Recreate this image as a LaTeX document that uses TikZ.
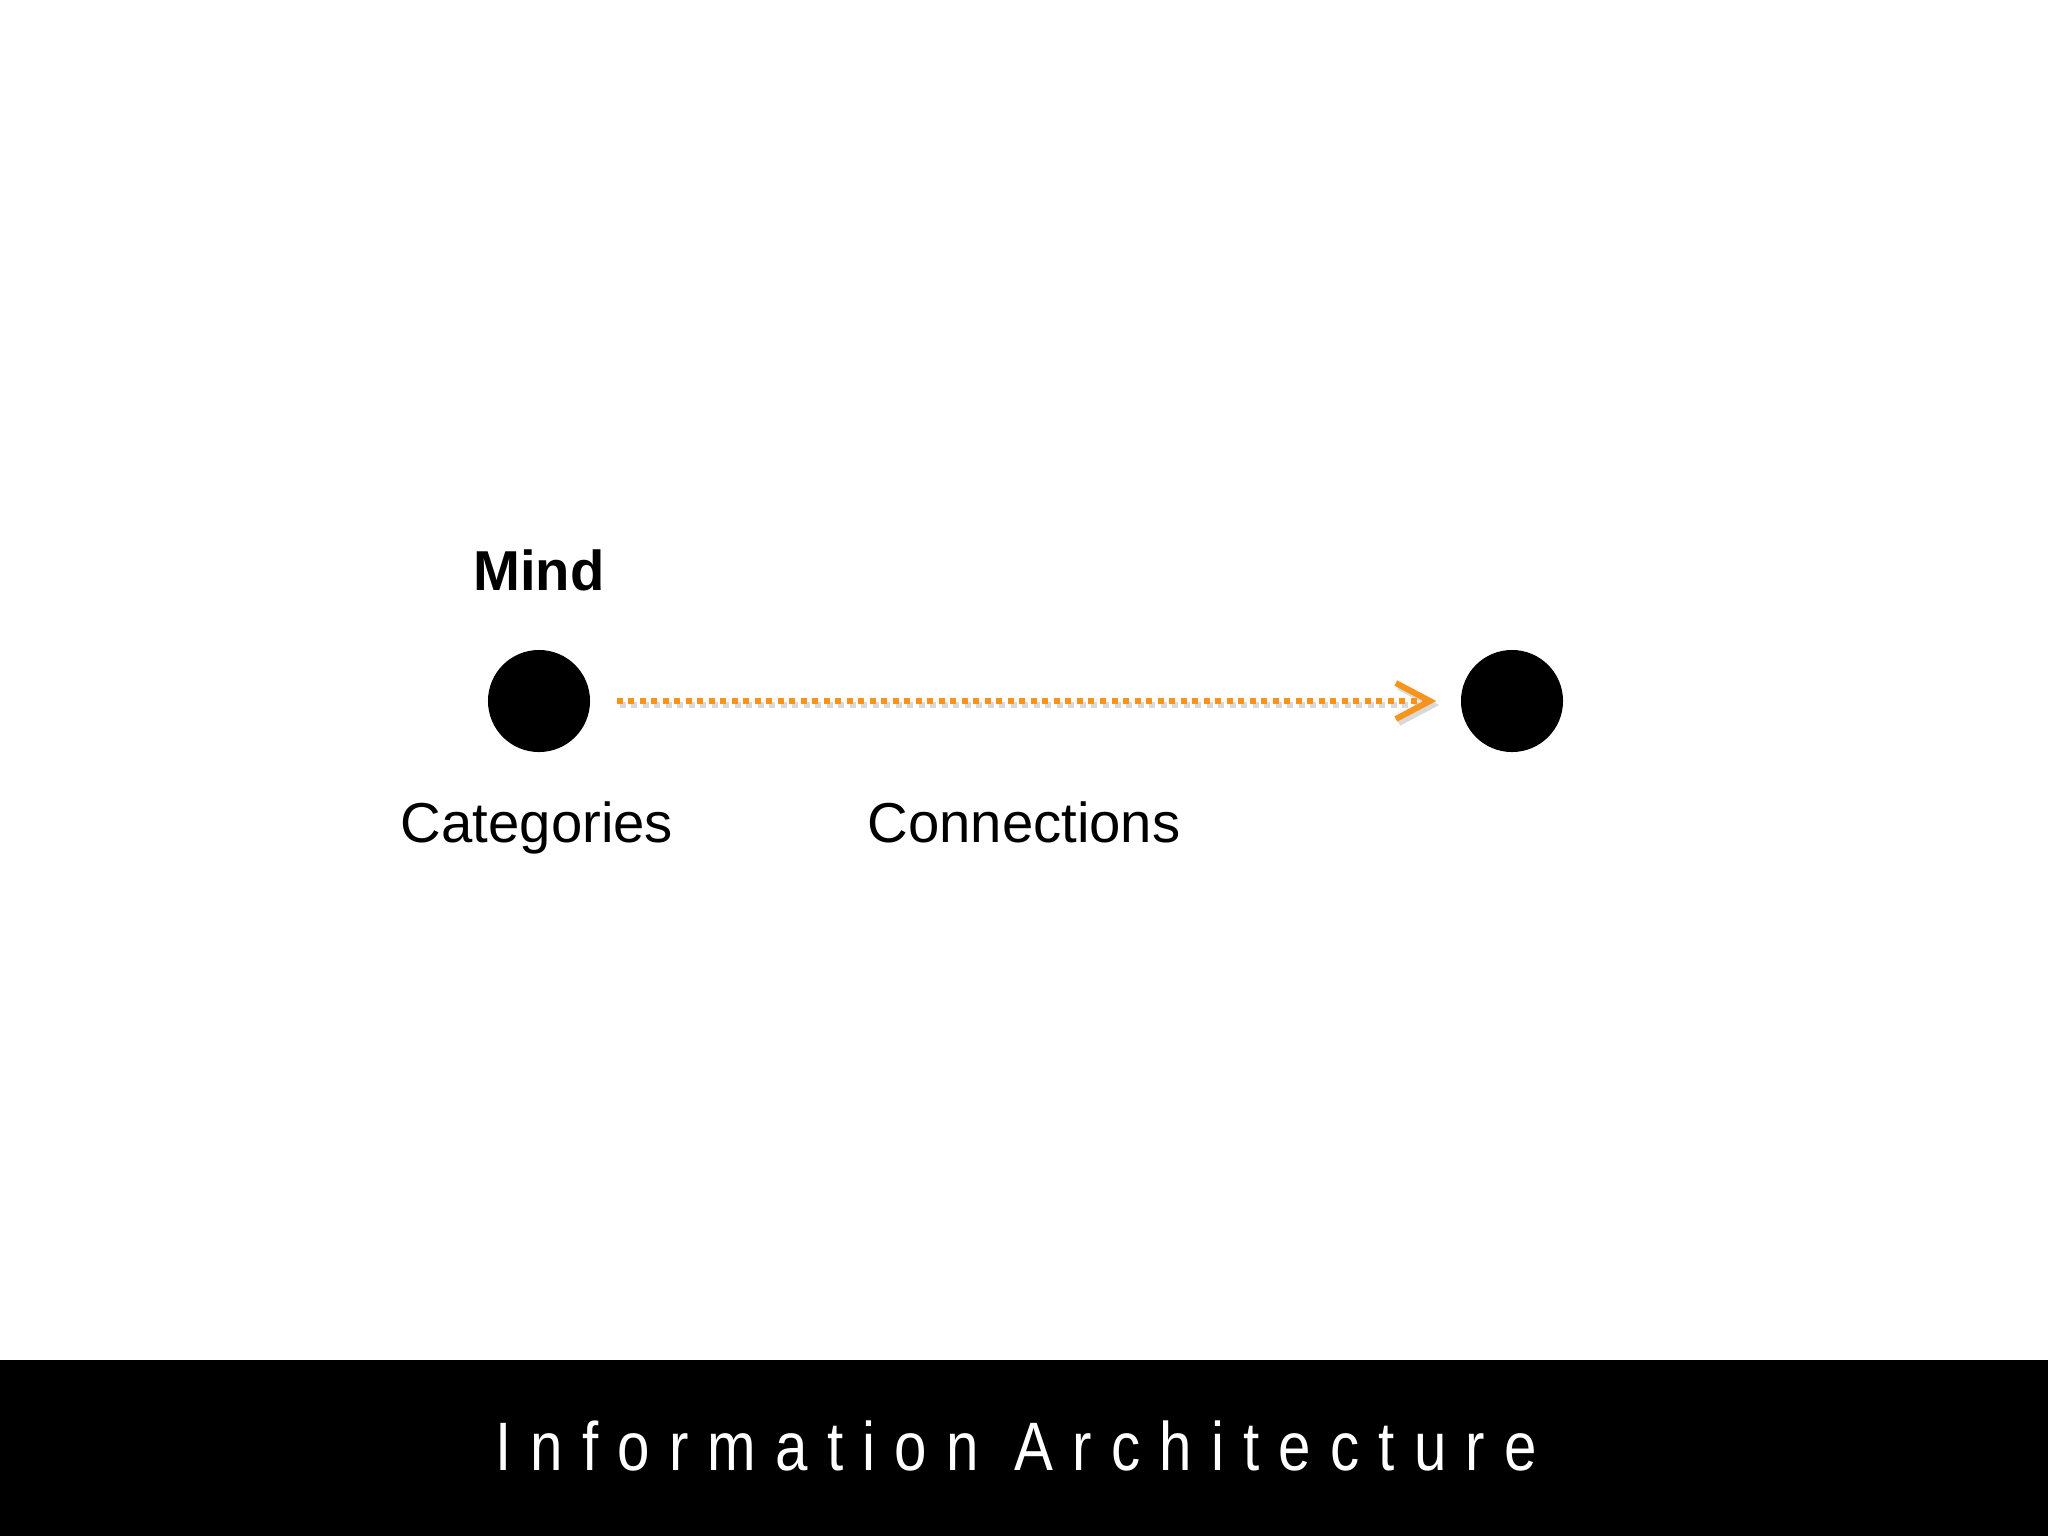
\documentclass[tikz,border=0pt]{standalone}
\usepackage{fontspec}
\setmainfont{Liberation Sans}
\usetikzlibrary{arrows.meta}
\definecolor{linkorange}{RGB}{247,148,29}

\begin{document}
\begin{tikzpicture}[x=0.01cm,y=-0.01cm,
  blob/.style={circle,fill=black,minimum size=1.02cm,inner sep=0pt},
  lbl/.style={font=\fontsize{16}{19}\selectfont,anchor=base},
  link/.style={line width=1.7pt,dash pattern=on 0.06cm off 0.055cm,
    shorten <=0.26cm,shorten >=0.24cm,
    -{Straight Barb[length=0.34cm,width=0.36cm]}}]
%page size
\useasboundingbox (0,0) rectangle (2048,1536);
\fill[white] (0,0) rectangle (2048,1536);
%footer band
\fill[black] (0,1360) rectangle (2048,1536);
\node[text=white,anchor=base,font=\fontsize{19.5}{23}\selectfont\addfontfeature{LetterSpace=33}] (title) at (1016,1470) {\scalebox{0.85}[1]{Information Architecture}};
%points
\node[blob] (mind) at (539,701) {};
\node[blob] (world) at (1512,701) {};
%labels
\node[lbl,font=\fontsize{16}{19}\selectfont\bfseries] (mindlbl) at (539,590) {Mind};
\node[lbl] (catlbl) at (537,842) {Categories};
\node[lbl] (conlbl) at (1024,842) {Connections};
%connection
\draw[link,gray!30,transform canvas={shift={(0.03cm,-0.04cm)}}] (mind) -- (world);
\draw[link,linkorange] (mind) -- (world);
\end{tikzpicture}
\end{document}
